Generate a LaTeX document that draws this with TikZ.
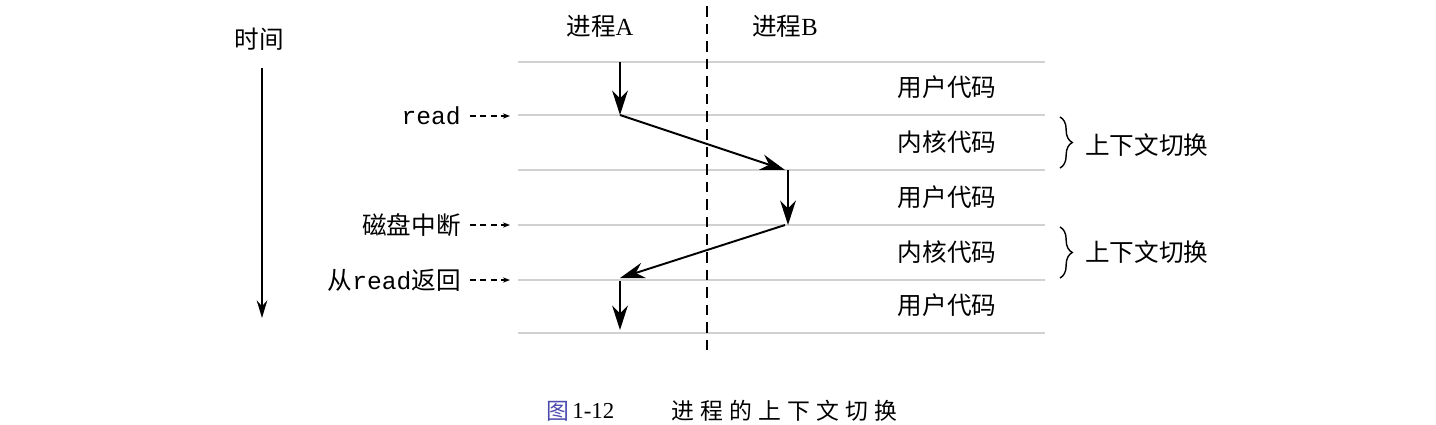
\documentclass[tikz,border=0pt]{standalone}
\usepackage{fontspec}
\setmainfont{Liberation Sans}
\newfontfamily\cjk{Noto Sans CJK SC}
\newfontfamily\mono{Liberation Mono}
\newfontfamily\serif{Liberation Serif}
\usetikzlibrary{arrows.meta,decorations.pathreplacing}
\newcommand{\capsp}{\hspace{3.5pt}}
\begin{document}
\begin{tikzpicture}[x=0.02cm,y=-0.02cm,
  lbl/.style={font=\cjk\fontsize{14}{16}\selectfont, inner sep=0pt},
  caplbl/.style={font=\cjk\fontsize{13}{15}\selectfont, inner sep=0pt},
  sepline/.style={draw=black!18, line width=1.1pt},
  flow/.style={line width=1.1pt, -{Stealth[length=14pt,width=9pt]}},
  ptr/.style={line width=0.8pt, dash pattern=on 3.5pt off 2.5pt, -{Stealth[length=4pt,width=3pt]}},
  brc/.style={decorate, decoration={brace, amplitude=7pt}, line width=0.8pt}]
\useasboundingbox (0,0) rectangle (1436,424);
% horizontal separators
\foreach \i/\y in {0/62,1/115,2/170,3/225,4/280,5/333}{
  \coordinate (L\i) at (518,\y);
  \coordinate (R\i) at (1045,\y);
  \draw[sepline] (L\i) -- (R\i);
}
% dashed divider
\coordinate (dtop) at (707,6);
\coordinate (dbot) at (707,353);
\draw[line width=1pt, dash pattern=on 6pt off 4pt] (dtop) -- (dbot);
% headers
\node[lbl] (pa) at (600,26) {进程{\serif A}};
\node[lbl] (pb) at (785,26) {进程{\serif B}};
\node[lbl] (time) at (259,39) {时间};
\coordinate (ttop) at (262,68);
\coordinate (tbot) at (262,318);
\draw[line width=1pt, -{Stealth[length=10pt,width=6pt]}] (ttop) -- (tbot);
% flow arrows
\coordinate (a0) at (620,62);
\coordinate (a1) at (620,115);
\coordinate (b1) at (785,170);
\coordinate (b1t) at (788,170);
\coordinate (b2) at (788,225);
\coordinate (b2s) at (785,225);
\coordinate (a2) at (620,278);
\coordinate (a3t) at (620,281);
\coordinate (a3) at (620,330);
\draw[flow] (a0) -- (a1);
\draw[flow] (a1) -- (b1);
\draw[flow] (b1t) -- (b2);
\draw[flow] (b2s) -- (a2);
\draw[flow] (a3t) -- (a3);
% left labels
\node[lbl, anchor=east] (rd) at (461,116) {\mono read};
\node[lbl, anchor=east] (irq) at (461,225) {磁盘中断};
\node[lbl, anchor=east] (ret) at (461,280) {从{\mono read}返回};
\coordinate (rdE) at (510,116);
\coordinate (irqE) at (510,225);
\coordinate (retE) at (510,280);
\draw[ptr] ([xshift=5pt]rd.east) -- (rdE);
\draw[ptr] ([xshift=5pt]irq.east) -- (irqE);
\draw[ptr] ([xshift=5pt]ret.east) -- (retE);
% right labels
\node[lbl] (u1) at (947,87) {用户代码};
\node[lbl] (k1) at (947,142) {内核代码};
\node[lbl] (u2) at (947,197) {用户代码};
\node[lbl] (k2) at (947,252) {内核代码};
\node[lbl] (u3) at (947,305) {用户代码};
% braces
\coordinate (bt1) at (1060,117);
\coordinate (bb1) at (1060,168);
\coordinate (bt2) at (1060,227);
\coordinate (bb2) at (1060,278);
\draw[brc] (bt1) -- (bb1);
\draw[brc] (bt2) -- (bb2);
\node[lbl, anchor=west] (cs1) at (1085,145) {上下文切换};
\node[lbl, anchor=west] (cs2) at (1085,252) {上下文切换};
% caption
\node[caplbl, text=black!45!blue!70!white] (capfig) at (558,411) {图};
\node[font=\serif\fontsize{13}{15}\selectfont, inner sep=0pt, anchor=west] (capnum) at (572,411) {1-12};
\node[caplbl, anchor=west] (captxt) at (671,411)
  {进\capsp 程\capsp 的\capsp 上\capsp 下\capsp 文\capsp 切\capsp 换};
\end{tikzpicture}
\end{document}
